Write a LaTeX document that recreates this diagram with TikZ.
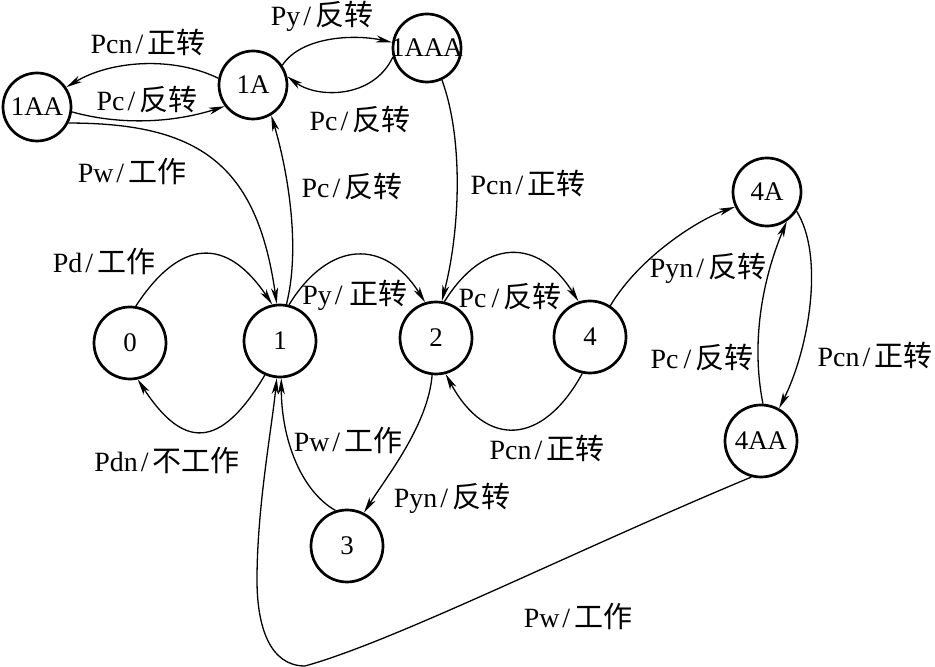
\documentclass[tikz,border=0pt]{standalone}
\usepackage{fontspec}
\setmainfont{Liberation Serif}
\newfontfamily\cjk[Scale=1.04]{Noto Sans CJK SC}
\usetikzlibrary{arrows.meta}
\newcommand\zh[1]{{\cjk #1}}
\newcommand\sla{\kern3bp/\kern4bp}
\begin{document}
\begin{tikzpicture}[x=1bp,y=1bp,
 st/.style={circle,draw,line width=2.7bp,minimum size=72bp,inner sep=0pt,font=\fontsize{27}{29}\selectfont},
 sts/.style={st,minimum size=68bp},
 tr/.style={line width=1.3bp,-{Stealth[length=16bp,width=7bp,inset=4.5bp]}},
 lb/.style={font=\fontsize{28}{30}\selectfont,inner sep=0pt}]
\useasboundingbox (0,0) rectangle (935,667);
\fill[white] (0,0) rectangle (935,667);
% states
\node[st] (n0) at (130,324) {\makebox[0pt]{0}};
\node[st] (n1) at (280,326) {\makebox[0pt]{1}};
\node[st] (n2) at (436,329) {\makebox[0pt]{2}};
\node[st] (n4) at (590,330) {\makebox[0pt]{4}};
\node[st] (n3) at (347,121) {\makebox[0pt]{3}};
\node[sts] (n1AA) at (37,560) {\makebox[0pt]{1AA}};
\node[sts] (n1A) at (253,582) {\makebox[0pt]{1A}};
\node[sts] (n1AAA) at (427,619) {\makebox[0pt]{1AAA}};
\node[sts] (n4A) at (767,475) {\makebox[0pt]{4A}};
\node[st] (n4AA) at (761,226) {\makebox[0pt]{4AA}};
% transitions
\draw[tr] (n0.81) .. controls +(45,69) and +(-45,67) .. (n1.102);
\draw[tr] (n1.246) .. controls +(-45,-76) and +(45,-69) .. (n0.282);
\draw[tr] (n1.76) .. controls +(40,65) and +(-40,64) .. (n2.107);
\draw[tr] (n2.77) .. controls +(40,64) and +(-40,64) .. (n4.108);
\draw[tr] (n4.258) .. controls +(-40,-73) and +(40,-74) .. (n2.285);
\draw[tr] (n2.264) .. controls +(-4,-50) and +(22,35) .. (n3.63);
\draw[tr] (n3.108) .. controls +(-35,20) and +(0,-60) .. (n1.272);
\draw[tr] (n4AA.255) .. controls +(-180,-75) and +(90,25) .. (305,1)
   .. controls (270,1) and (257,40) .. (257,87)
   .. controls (257,160) and (272,240) .. (n1.265);
\draw[tr] (n1A.169) .. controls +(-45,22) and +(45,27) .. (n1AA.34);
\draw[tr] (n1AA.352) .. controls +(50,-14) and +(-50,-16) .. (n1A.217);
\draw[tr] (n1AA.333) .. controls +(130,0) and +(-20,140) .. (n1.95);
\draw[tr] (n1.80) .. controls +(15,60) and +(15,-50) .. (n1A.301);
\draw[tr] (n1A.34) .. controls +(20,30) and +(-35,8) .. (n1AAA.171);
\draw[tr] (n1AAA.195) .. controls +(-20,-42) and +(30,-22) .. (n1A.14);
\draw[tr] (n1AAA.295) .. controls +(22,-60) and +(18,70) .. (n2.81);
\draw[tr] (n4.57) .. controls +(30,50) and +(-35,-12) .. (n4A.205);
\draw[tr] (n4AA.87) .. controls +(-12,60) and +(-25,-60) .. (n4A.304);
\draw[tr] (n4A.327) .. controls +(28,-45) and +(30,60) .. (n4AA.61);
% labels
\node[lb] (l01) at (104,405) {Pd\sla\zh{工作}};
\node[lb] (l10) at (167,206) {Pdn\sla\zh{不工作}};
\node[lb] (l12) at (355,372) {Py\sla\kern3bp\zh{正转}};
\node[lb] (l24) at (510,370) {Pc\kern2bp\sla\zh{反转}};
\node[lb] (l42) at (547,219) {Pcn\sla\zh{正转}};
\node[lb] (l23) at (452,169) {Pyn\sla\zh{反转}};
\node[lb] (l31) at (348,226) {Pw\sla\zh{工作}};
\node[lb] (l4AA1) at (578,50) {Pw\sla\zh{工作}};
\node[lb] (l44A) at (708,399) {Pyn\sla\zh{反转}};
\node[lb] (l4AA4A) at (702,309) {Pc\kern2bp\sla\zh{反转}};
\node[lb] (l4A4AA) at (875,312) {Pcn\sla\zh{正转}};
\node[lb] (l1A1AA) at (148,624) {Pcn\sla\zh{正转}};
\node[lb] (l1AA1A) at (147,567) {Pc\sla\zh{反转}};
\node[lb] (l1AA1) at (132,495) {Pw\sla\zh{工作}};
\node[lb] (l11A) at (352,480) {Pc\sla\zh{反转}};
\node[lb] (l1A1AAA) at (322,651) {Py\sla\zh{反转}};
\node[lb] (l1AAA1A) at (360,547) {Pc\sla\zh{反转}};
\node[lb] (l1AAA2) at (528,484) {Pcn\sla\zh{正转}};
\end{tikzpicture}
\end{document}
